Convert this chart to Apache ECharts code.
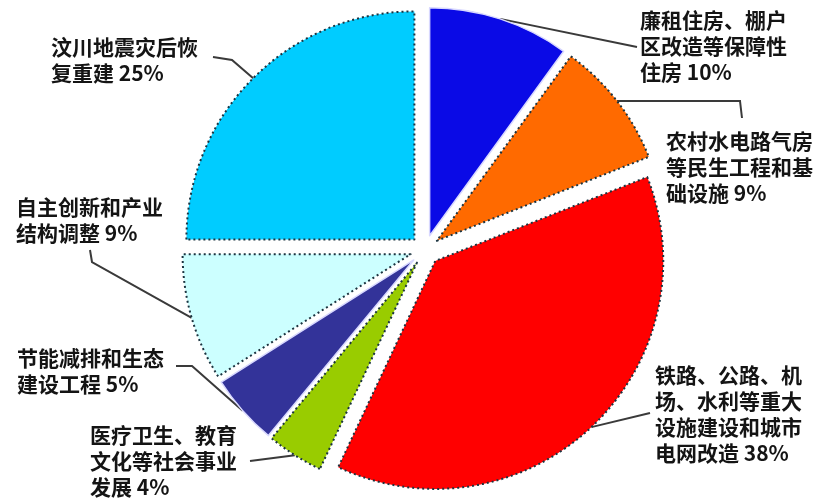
<!DOCTYPE html>
<html>
<head>
<meta charset="utf-8">
<script src="https://cdn.jsdelivr.net/npm/echarts@6/dist/echarts.min.js"></script>
<style>
  html, body { margin: 0; padding: 0; background: #ffffff; }
  #chart { width: 823px; height: 501px; }
</style>
</head>
<body>
<div id="chart"></div>
<script>
// Spending categories (label text, wrapped as printed)
const categories = [
  '廉租住房、棚户\n区改造等保障性\n住房',
  '农村水电路气房\n等民生工程和基\n础设施',
  '铁路、公路、机\n场、水利等重大\n设施建设和城市\n电网改造',
  '医疗卫生、教育\n文化等社会事业\n发展',
  '节能减排和生态\n建设工程',
  '自主创新和产业\n结构调整',
  '汶川地震灾后恢\n复重建'
];
// Share of the total, percent
const shares = [10, 9, 38, 4, 5, 9, 25];

// Styling per slice
const sliceColors = ['#0a0ae6', '#ff6a00', '#ff0000', '#99cc00', '#333399', '#ccffff', '#00ccff'];
const dottedEdge = [false, true, true, true, false, true, true];
// Top-left corner of each text block
const labelSpots = [[640, 7], [666, 128], [655, 362], [90, 422], [17, 345], [16, 194], [51, 34]];
// Leader line bends, from the slice towards the text
const leaderBends = [
  [[637, 47]],
  [[740, 101], [742, 118]],
  [[650, 413]],
  [[250, 461]],
  [[192, 366], [176, 366]],
  [[92, 262], [90, 250]],
  [[232, 60], [213, 57]]
];

const CENTER = [425, 250];
const EXPLODE = 15;

// Mid angle of each slice (degrees clockwise from 12 o'clock), used to undo
// the selected-offset shift that labels and leaders inherit from their slice
const total = shares.reduce((a, b) => a + b, 0);
const midAngles = [];
shares.reduce((acc, v) => { midAngles.push((acc + v / 2) / total * 360); return acc + v; }, 0);

const chart = echarts.init(document.getElementById('chart'), null, { renderer: 'canvas' });

const data = categories.map((name, i) => ({
  name: name,
  value: shares[i],
  selected: true,
  itemStyle: {
    color: sliceColors[i],
    borderColor: dottedEdge[i] ? '#1b3440' : '#d8d8ff',
    borderWidth: dottedEdge[i] ? 2 : 1.5,
    borderType: dottedEdge[i] ? [2, 3] : 'solid'
  }
}));

chart.setOption({
  backgroundColor: '#ffffff',
  animation: false,
  series: [{
    type: 'pie',
    center: CENTER,
    radius: [0, 228],
    startAngle: 90,
    clockwise: true,
    selectedMode: 'multiple',
    selectedOffset: EXPLODE,
    avoidLabelOverlap: false,
    emphasis: { disabled: true },
    data: data,
    label: {
      show: true,
      formatter: '{b} {c}%',
      color: '#141414',
      fontFamily: 'Noto Sans CJK SC',
      fontWeight: 'bold',
      fontSize: 21,
      lineHeight: 26
    },
    labelLine: {
      show: true,
      length: 20,
      length2: 20,
      lineStyle: { color: '#3a3a3a', width: 2 }
    },
    labelLayout: function (params) {
      const i = params.dataIndex;
      const target = labelSpots[i];
      const r = params.labelRect;
      const ax = params.align === 'right' ? r.x + r.width
        : params.align === 'center' ? r.x + r.width / 2 : r.x;
      const ay = params.verticalAlign === 'bottom' ? r.y + r.height
        : params.verticalAlign === 'top' ? r.y : r.y + r.height / 2;
      const a = midAngles[i] * Math.PI / 180;
      const offX = EXPLODE * Math.sin(a);
      const offY = -EXPLODE * Math.cos(a);
      const start = params.labelLinePoints ? params.labelLinePoints[0] : null;
      const out = {
        align: 'left',
        verticalAlign: 'top',
        dx: target[0] - ax - offX,
        dy: target[1] - ay - offY
      };
      if (start) {
        out.labelLinePoints = [start].concat(
          leaderBends[i].map(p => [p[0] - offX, p[1] - offY])
        );
      }
      return out;
    }
  }]
});
</script>
</body>
</html>
